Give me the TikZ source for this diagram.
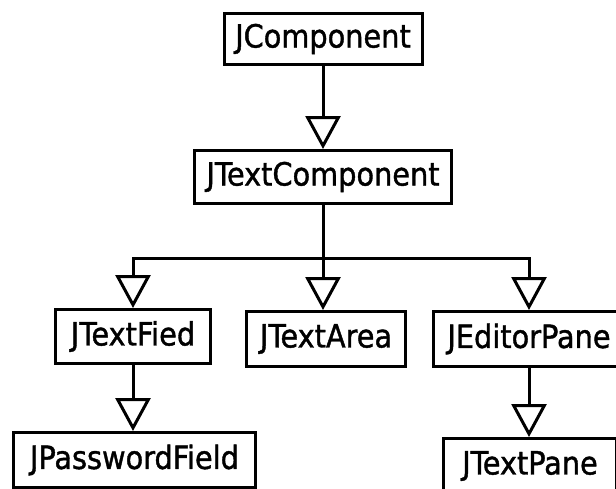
\documentclass[tikz,border=0pt]{standalone}
\usepackage{fontspec}
\setmainfont{DejaVu Sans Condensed}[BoldFont={DejaVu Sans Condensed},BoldFeatures={FakeBold=1.2}]
\usetikzlibrary{arrows.meta}
\tikzset{
  cls/.style={draw=black, line width=3pt, fill=white, inner sep=0pt,
    font=\fontsize{32}{36}\selectfont\bfseries, text=black},
  inh/.style={line width=3pt, -{Triangle[open,length=33pt,width=35pt,line join=miter]}}
}
\begin{document}
\begin{tikzpicture}[x=1pt,y=-1pt]
\useasboundingbox (0,0) rectangle (616,488);
\node[cls, minimum width=198pt, minimum height=51pt] (jc) at (323,39) {JComponent};
\node[cls, minimum width=257pt, minimum height=53pt] (tc) at (323,177) {JTextComponent};
\node[cls, minimum width=155pt, minimum height=54pt] (tf) at (133,336.5) {JTextFied};
\node[cls, minimum width=159pt, minimum height=55pt] (ta) at (326,339) {JTextArea};
\node[cls, minimum width=191pt, minimum height=55pt] (ep) at (529,339) {JEditorPane};
\node[cls, minimum width=242pt, minimum height=55pt] (pf) at (134.5,460) {JPasswordField};
\node[cls, minimum width=173pt, minimum height=55pt] (tp) at (530,466) {JTextPane};
\coordinate (bus) at (0,258);
\draw[inh] (jc.south) -- (jc.south |- tc.north);
\draw[inh] (tc.south) -- (tc.south |- bus) -| (tf.north);
\draw[inh] (tc.south) -- (tc.south |- ta.north);
\draw[inh] (tc.south) -- (tc.south |- bus) -| (ep.north);
\draw[inh] (tf.south) -- (tf.south |- pf.north);
\draw[inh] (ep.south) -- (ep.south |- tp.north);
\end{tikzpicture}
\end{document}
